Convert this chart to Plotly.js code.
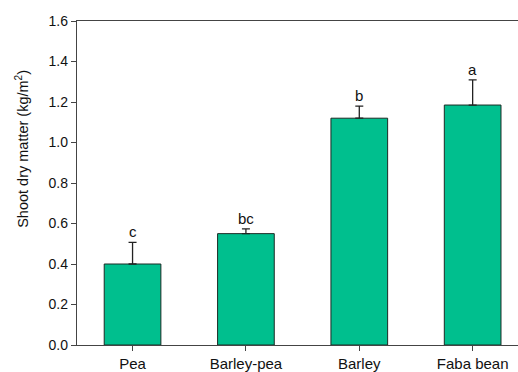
<!DOCTYPE html>
<html>
<head>
<meta charset="utf-8">
<script src="https://cdn.plot.ly/plotly-3.0.1.min.js"></script>
<style>html,body{margin:0;padding:0;background:#fff;}#chart{width:518px;height:372px;}</style>
</head>
<body>
<div id="chart"></div>
<script>
const categories = ["Pea", "Barley-pea", "Barley", "Faba bean"];
const shootDryMatter = [0.40, 0.55, 1.12, 1.185];
const errorUp = [0.107, 0.023, 0.06, 0.124];
const letters = ["c", "bc", "b", "a"];
const yTickVals = [0.0, 0.2, 0.4, 0.6, 0.8, 1.0, 1.2, 1.4, 1.6];
const yTickText = ["0.0", "0.2", "0.4", "0.6", "0.8", "1.0", "1.2", "1.4", "1.6"];

const font = "Liberation Sans, Arial, sans-serif";

const trace = {
  type: "bar",
  x: categories,
  y: shootDryMatter,
  width: 0.5,
  marker: { color: "#00BF8E", line: { color: "#1b2b25", width: 1 } },
  error_y: {
    type: "data",
    symmetric: false,
    array: errorUp,
    arrayminus: errorUp.map(() => 0),
    color: "#222",
    thickness: 1.3,
    width: 4
  },
  hoverinfo: "skip"
};

const annotations = letters.map((t, i) => ({
  x: categories[i],
  y: shootDryMatter[i] + errorUp[i],
  xref: "x", yref: "y",
  text: t,
  showarrow: false,
  yanchor: "bottom",
  yshift: 0,
  font: { family: font, size: 15, color: "#111" }
}));

annotations.push({
  xref: "paper", yref: "paper",
  x: -0.125, y: 0.605,
  text: "Shoot dry matter (kg/m<sup>2</sup>)",
  textangle: -90,
  showarrow: false,
  xanchor: "center", yanchor: "middle",
  font: { family: font, size: 14.5, color: "#111" }
});

const layout = {
  width: 518, height: 372,
  margin: { l: 77, r: 0, t: 21, b: 27 },
  paper_bgcolor: "#fff",
  plot_bgcolor: "#fff",
  showlegend: false,
  xaxis: {
    type: "category",
    range: [-0.49, 3.4],
    showline: true, linecolor: "#444", linewidth: 1.2,
    mirror: true,
    ticks: "outside", ticklen: 5, tickcolor: "#444", tickwidth: 1,
    showgrid: false, zeroline: false,
    tickfont: { family: font, size: 15, color: "#111" }
  },
  yaxis: {
    range: [0, 1.6],
    tickvals: yTickVals, ticktext: yTickText,
    showline: true, linecolor: "#444", linewidth: 1.2,
    ticks: "outside", ticklen: 5, tickcolor: "#444", tickwidth: 1,
    showgrid: false, zeroline: false,
    tickfont: { family: font, size: 14, color: "#111" }
  },
  annotations: annotations
};

Plotly.newPlot("chart", [trace], layout, { displayModeBar: false, staticPlot: true });
</script>
</body>
</html>
